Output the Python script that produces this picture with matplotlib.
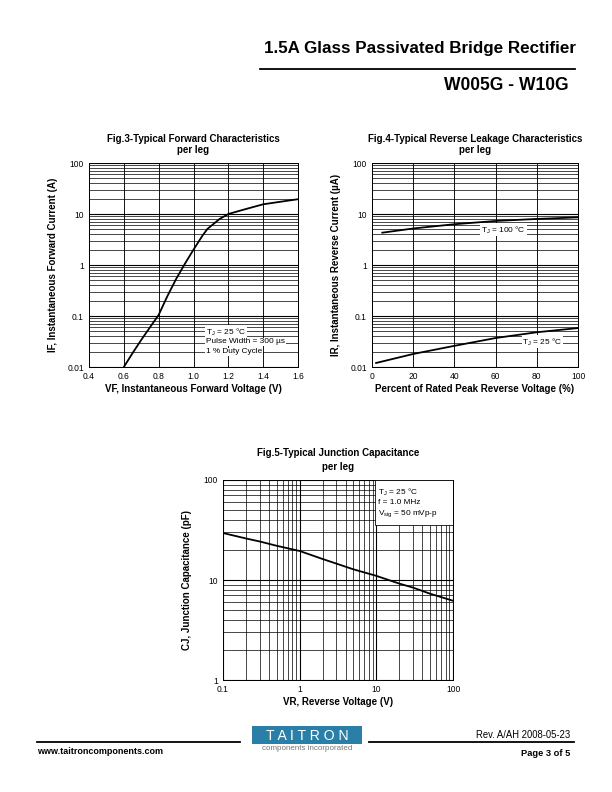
import numpy as np
import matplotlib
matplotlib.use('Agg')
import matplotlib.pyplot as plt
from matplotlib.patches import Rectangle
from matplotlib.lines import Line2D
from matplotlib.ticker import LogLocator, FixedLocator, NullFormatter

plt.rcParams['font.family'] = ['Liberation Sans', 'DejaVu Sans']
plt.rcParams['mathtext.fontset'] = 'custom'
plt.rcParams['mathtext.rm'] = 'Liberation Sans'
plt.rcParams['mathtext.it'] = 'Liberation Sans:italic'

# Fig.3 forward characteristics
vf = [0.6, 0.65, 0.7, 0.75, 0.8, 0.85, 0.9, 0.95, 1.0, 1.05, 1.08, 1.15, 1.2, 1.3, 1.4, 1.5, 1.6]
if_a = [0.01, 0.0187, 0.034, 0.06, 0.105, 0.245, 0.53, 1.05, 2.0, 3.7, 5.1, 8.0, 10.0, 12.5, 15.5, 17.4, 19.5]

# Fig.4 reverse leakage
pct = [5, 20, 40, 60, 80, 100]
ir_100 = [4.3, 5.2, 6.3, 7.3, 8.0, 8.6]
pct25 = [2, 20, 40, 60, 80, 100]
ir_25 = [0.012, 0.018, 0.026, 0.037, 0.048, 0.058]

# Fig.5 junction capacitance
vr = [0.1, 0.2, 0.3, 0.5, 1, 2, 3, 5, 10, 20, 30, 50, 100]
cj = [29.5, 26.0, 24.3, 22.0, 19.5, 16.2, 14.6, 12.8, 11.0, 9.2, 8.4, 7.3, 6.2]

W, H = 612, 792
fig = plt.figure(figsize=(8.5, 11), dpi=72)

def px(x, y):
    return x / W, 1 - y / H

def box(l, t, r, b):
    return [l / W, 1 - b / H, (r - l) / W, (b - t) / H]

def style_log_y(ax, lo, hi):
    ax.set_yscale('log')
    ax.set_ylim(lo, hi)
    ax.yaxis.set_minor_locator(LogLocator(base=10, subs=np.arange(2, 10)))
    ax.yaxis.set_minor_formatter(NullFormatter())
    ax.grid(True, which='major', axis='y', color='black', lw=1.1)
    ax.grid(True, which='minor', axis='y', color='black', lw=0.7)

def common(ax):
    ax.tick_params(which='both', length=0, labelsize=8.5, pad=5)
    for s in ax.spines.values():
        s.set_linewidth(1.0)
    ax.yaxis.set_major_formatter(plt.FuncFormatter(lambda v, p: ('%g' % v)))

LBL = dict(fontsize=9.8, fontweight='bold')
TTL = dict(fontsize=9.8, fontweight='bold')
LEG = 8.2

# ---- Fig.3
ax3 = fig.add_axes(box(89, 163, 298, 367))
style_log_y(ax3, 0.01, 100)
ax3.set_xlim(0.4, 1.6)
ax3.xaxis.set_major_locator(FixedLocator([0.4, 0.6, 0.8, 1.0, 1.2, 1.4, 1.6]))
ax3.xaxis.set_major_formatter(plt.FuncFormatter(lambda v, p: '%.1f' % v))
ax3.grid(True, which='major', axis='x', color='black', lw=0.9)
common(ax3)
ax3.plot(vf, if_a, color='black', lw=1.8)
for txt, yy in [(r'T$_\mathrm{J}$ = 25 °C', 0.172), ('Pulse Width = 300 µs', 0.123), ('1 % Duty Cycle', 0.074)]:
    ax3.text(0.56, yy, txt, transform=ax3.transAxes, fontsize=LEG, va='center', ha='left',
             bbox=dict(facecolor='white', edgecolor='none', pad=0.8))
ax3.set_title('Fig.3-Typical Forward Characteristics\nper leg', pad=10, linespacing=1.1, **TTL)
ax3.set_xlabel('VF, Instantaneous Forward Voltage (V)', labelpad=3, **LBL)
ax3.set_ylabel('IF, Instantaneous Forward Current (A)', labelpad=9, **LBL)

# ---- Fig.4
ax4 = fig.add_axes(box(372, 163, 578, 367))
style_log_y(ax4, 0.01, 100)
ax4.set_xlim(0, 100)
ax4.xaxis.set_major_locator(FixedLocator([0, 20, 40, 60, 80, 100]))
ax4.grid(True, which='major', axis='x', color='black', lw=0.9)
common(ax4)
ax4.plot(pct, ir_100, color='black', lw=1.8)
ax4.plot(pct25, ir_25, color='black', lw=1.8)
ax4.text(0.53, 0.672, r'T$_\mathrm{J}$ = 100 °C', transform=ax4.transAxes, fontsize=LEG, va='center',
         bbox=dict(facecolor='white', edgecolor='none', pad=0.8))
ax4.text(0.73, 0.123, r'T$_\mathrm{J}$ = 25 °C', transform=ax4.transAxes, fontsize=LEG, va='center',
         bbox=dict(facecolor='white', edgecolor='none', pad=0.8))
ax4.set_title('Fig.4-Typical Reverse Leakage Characteristics\nper leg', pad=10, linespacing=1.1, **TTL)
ax4.set_xlabel('Percent of Rated Peak Reverse Voltage (%)', labelpad=3, **LBL)
ax4.set_ylabel('IR, Instantaneous Reverse Current (µA)', labelpad=9, **LBL)

# ---- Fig.5
ax5 = fig.add_axes(box(223, 480, 453, 680))
style_log_y(ax5, 1, 100)
ax5.set_xscale('log')
ax5.set_xlim(0.1, 100)
ax5.xaxis.set_minor_locator(LogLocator(base=10, subs=np.arange(2, 10)))
ax5.xaxis.set_minor_formatter(NullFormatter())
ax5.grid(True, which='major', axis='x', color='black', lw=1.1)
ax5.grid(True, which='minor', axis='x', color='black', lw=0.7)
common(ax5)
ax5.xaxis.set_major_formatter(plt.FuncFormatter(lambda v, p: ('%g' % v)))
ax5.plot(vr, cj, color='black', lw=1.8)
ax5.add_patch(Rectangle((0.66, 0.775), 0.34, 0.225, transform=ax5.transAxes, facecolor='white',
                        edgecolor='black', lw=0.8, zorder=3))
for txt, yy in [(r'T$_\mathrm{J}$ = 25 °C', 0.94), ('f = 1.0 MHz', 0.885), (r'V$_\mathrm{sig}$ = 50 mVp-p', 0.83)]:
    ax5.text(0.675, yy, txt, transform=ax5.transAxes, fontsize=LEG, va='center', zorder=4)
ax5.set_title('Fig.5-Typical Junction Capacitance\nper leg', pad=10, linespacing=1.5, **TTL)
ax5.set_xlabel('VR, Reverse Voltage (V)', labelpad=3, **LBL)
ax5.set_ylabel('CJ, Junction Capacitance (pF)', labelpad=12, **LBL)

# ---- header
fig.text(*px(576, 48), '1.5A Glass Passivated Bridge Rectifier', fontsize=17, fontweight='bold', ha='right', va='center')
fig.add_artist(Line2D([260 / W, 575 / W], [1 - 69 / H] * 2, color='black', lw=1.8))
fig.text(*px(569, 86), 'W005G - W10G', fontsize=17.5, fontweight='bold', ha='right', va='center')

# ---- footer
fig.add_artist(Line2D([37 / W, 240 / W], [1 - 742 / H] * 2, color='black', lw=1.8))
fig.add_artist(Line2D([369 / W, 574 / W], [1 - 742 / H] * 2, color='black', lw=1.8))
fig.add_artist(Rectangle(px(252, 744), 110 / W, 18 / H, facecolor='#2a7fa8', edgecolor='none'))
fig.text(*px(307, 735.5), 'T A I T R O N', fontsize=14, color='white', ha='center', va='center')
fig.text(*px(307, 748), 'components incorporated', fontsize=8, color='#777777', ha='center', va='center')
fig.text(*px(37, 752), 'www.taitroncomponents.com', fontsize=9, fontweight='bold', ha='left', va='center')
fig.text(*px(570, 735), 'Rev. A/AH 2008-05-23', fontsize=9.5, ha='right', va='center')
fig.text(*px(570, 753), 'Page 3 of 5', fontsize=9.3, fontweight='bold', ha='right', va='center')

fig.savefig('out.png', dpi=72)
